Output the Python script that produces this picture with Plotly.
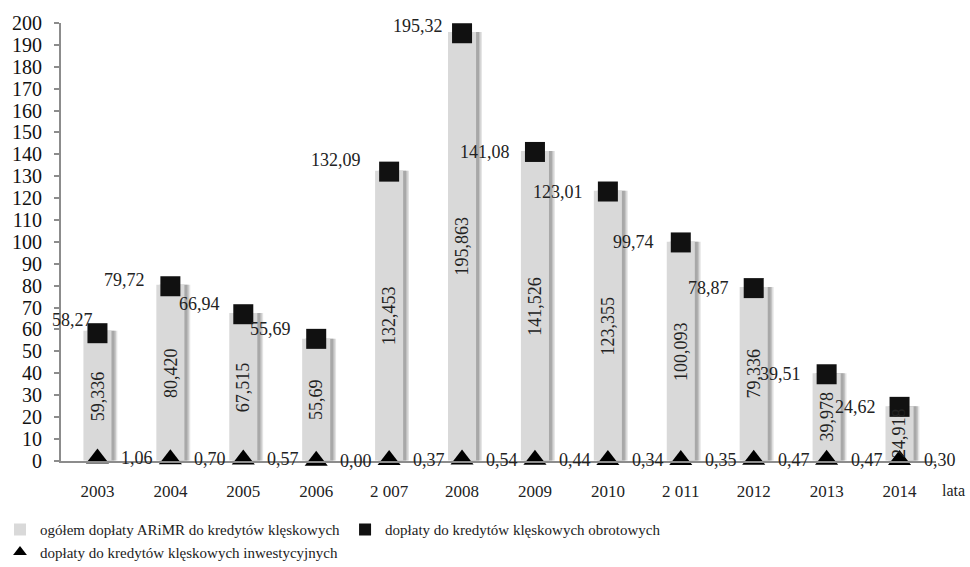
import plotly.graph_objects as go

# Years (as printed on the axis)
years = ["2003", "2004", "2005", "2006", "2 007", "2008", "2009", "2010", "2 011", "2012", "2013", "2014"]

# Values in Polish notation (mln zł)
total_txt = ["59,336", "80,420", "67,515", "55,69", "132,453", "195,863",
             "141,526", "123,355", "100,093", "79,336", "39,978", "24,918"]
working_txt = ["58,27", "79,72", "66,94", "55,69", "132,09", "195,32",
               "141,08", "123,01", "99,74", "78,87", "39,51", "24,62"]
invest_txt = ["1,06", "0,70", "0,57", "0,00", "0,37", "0,54",
              "0,44", "0,34", "0,35", "0,47", "0,47", "0,30"]

y_ticks = list(range(0, 201, 10))


def to_num(s):
    return float(s.replace(",", "."))


total = [to_num(s) for s in total_txt]
working = [to_num(s) for s in working_txt]
invest = [to_num(s) for s in invest_txt]
idx = list(range(len(years)))

FONT = "'Liberation Serif', 'Times New Roman', serif"
BAR_W = 0.385

fig = go.Figure()

# soft drop shadow behind the bars
for dx, col in [(0.08, "rgba(200,200,200,0.5)"), (0.06, "rgba(170,170,170,0.55)"),
                (0.04, "rgba(150,150,150,0.6)")]:
    fig.add_trace(go.Bar(
        x=idx, y=total, width=BAR_W, offset=-BAR_W / 2 + dx,
        marker=dict(color=col, line=dict(width=0)),
        showlegend=False, hoverinfo="skip",
    ))

fig.add_trace(go.Bar(
    x=idx, y=total, width=BAR_W, offset=-BAR_W / 2,
    marker=dict(color="#d9d9d9", line=dict(width=0)),
    name="ogółem dopłaty ARiMR do kredytów klęskowych",
))

fig.add_trace(go.Scatter(
    x=idx, y=working, mode="markers",
    marker=dict(symbol="square", size=20, color="#111111"),
    name="dopłaty do kredytów klęskowych obrotowych",
    cliponaxis=False,
))

fig.add_trace(go.Scatter(
    x=idx, y=invest, mode="markers",
    marker=dict(symbol="triangle-up", size=20, color="#000000"),
    name="dopłaty do kredytów klęskowych inwestycyjnych",
    cliponaxis=False,
))

annotations = []
lbl_font = dict(family=FONT, size=18, color="#222222")

# totals written vertically in the middle of each bar
for x, v, s in zip(idx, total, total_txt):
    annotations.append(dict(x=x, y=v / 2, text=s, textangle=-90, showarrow=False,
                            font=lbl_font, xanchor="center", yanchor="middle"))

# labels of the working-capital points, to the left of the squares
sq_dx = [-2, -23, -21, -23, -26, -17, -23, -23, -25, -23, -24, -22]
sq_dy = [13, 6, 10, 10, 12, 7, 0, 0, 0, 0, 0, 0]
for x, v, s, dx, dy in zip(idx, working, working_txt, sq_dx, sq_dy):
    annotations.append(dict(x=x, y=v, text=s, showarrow=False, font=lbl_font,
                            xanchor="right", yanchor="middle", xshift=dx, yshift=dy))

# labels of the investment points, to the right of the triangles
for x, v, s in zip(idx, invest, invest_txt):
    annotations.append(dict(x=x, y=v, text=s, showarrow=False, font=lbl_font,
                            xanchor="left", yanchor="middle", xshift=22, yshift=0))

annotations.append(dict(xref="paper", yref="paper", x=1.0, y=0, text="lata",
                        showarrow=False, xanchor="left", yanchor="top", xshift=4, yshift=-19,
                        font=dict(family=FONT, size=16, color="#222222")))

fig.update_layout(
    width=970, height=567,
    margin=dict(l=60, r=34, t=18, b=105),
    paper_bgcolor="white", plot_bgcolor="white",
    barmode="overlay",
    font=dict(family=FONT, size=16, color="#222222"),
    annotations=annotations,
    showlegend=True,
    legend=dict(orientation="h", xref="container", yref="container",
                x=-0.02, y=0.095, xanchor="left", yanchor="top",
                font=dict(family=FONT, size=15, color="#222222"),
                itemsizing="constant", traceorder="normal",
                tracegroupgap=0, itemwidth=30),
    xaxis=dict(range=[-0.5, 11.5], showgrid=False,
               tickvals=idx, ticktext=years,
               showline=True, linecolor="#8c8c8c", linewidth=2,
               ticks="", tickfont=dict(family=FONT, size=17, color="#222222"),
               ticklabelstandoff=14, zeroline=False),
    yaxis=dict(range=[0, 200], tickvals=y_ticks, showgrid=False,
               showline=True, linecolor="#8c8c8c", linewidth=2,
               ticks="outside", ticklen=5, tickcolor="#8c8c8c", tickwidth=1.5,
               tickfont=dict(family=FONT, size=20, color="#111111"),
               ticklabelstandoff=8, zeroline=False),
)

fig.write_html("out.html")
